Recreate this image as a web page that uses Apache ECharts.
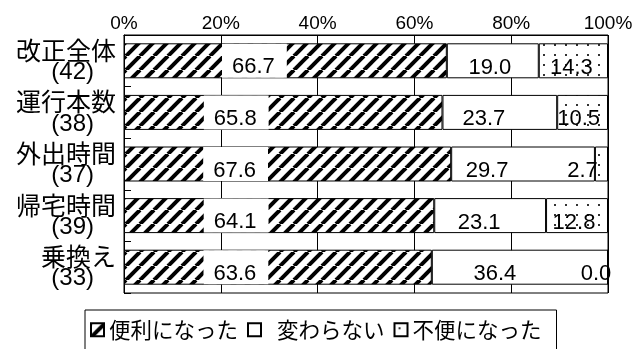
<!DOCTYPE html>
<html><head><meta charset="utf-8">
<script src="https://cdn.jsdelivr.net/npm/echarts@6/dist/echarts.min.js"></script>
<style>html,body{margin:0;padding:0;background:#fff}#c{width:644px;height:349px}</style>
</head><body><div id="c"></div>
<script>
const categories = ['改正全体', '運行本数', '外出時間', '帰宅時間', '乗換え'];
const counts = [42, 38, 37, 39, 33];
const better = [66.7, 65.8, 67.6, 64.1, 63.6];
const same = [19.0, 23.7, 29.7, 23.1, 36.4];
const worse = [14.3, 10.5, 2.7, 12.8, 0.0];
const seriesNames = ['便利になった', '変わらない', '不便になった'];

// label nudges (style only)
const nudge = [
  [-31, -47, -52, -43, -42],
  [-3, -16, -36, -11, -25],
  [-2, -4, -19, -3, -12]
];

function hatch() {
  const p = 14, c = document.createElement('canvas');
  c.width = p; c.height = p;
  const g = c.getContext('2d');
  g.fillStyle = '#fff'; g.fillRect(0, 0, p, p);
  g.strokeStyle = '#000'; g.lineWidth = 4;
  for (const k of [-1, 0, 1]) {
    g.beginPath(); g.moveTo(k * p, p); g.lineTo(k * p + p, 0); g.stroke();
  }
  return c;
}
function dots() {
  const c = document.createElement('canvas');
  c.width = 11; c.height = 10;
  const g = c.getContext('2d');
  g.fillStyle = '#fff'; g.fillRect(0, 0, 11, 10);
  g.fillStyle = '#333'; g.fillRect(4, 4, 2, 2);
  return c;
}

const fills = [
  { image: hatch(), repeat: 'repeat' },
  '#ffffff',
  { image: dots(), repeat: 'repeat' }
];
const values = [better, same, worse];
const FONT = 'Liberation Sans, Arial, sans-serif';

const series = values.map((arr, s) => ({
  name: seriesNames[s],
  type: 'bar',
  stack: 'total',
  barWidth: 35,
  itemStyle: { color: fills[s], borderColor: '#000', borderWidth: 1 },
  emphasis: { disabled: true },
  label: s === 0 ? {
    show: true, position: 'inside', backgroundColor: '#fff', padding: [0, 12, 0, 10],
    formatter: p => `{s| }\n{t|${Number(p.value).toFixed(1)}}`,
    rich: {
      s: { fontSize: 10, lineHeight: 13, color: '#000' },
      t: { fontSize: 22, lineHeight: 21, fontFamily: FONT, color: '#000' }
    }
  } : {
    show: true, position: 'inside', color: '#000', fontSize: 22, lineHeight: 21,
    fontFamily: FONT, formatter: p => Number(p.value).toFixed(1)
  },
  data: arr.map((v, i) => ({
    value: v,
    label: { offset: s === 0 ? [nudge[s][i], 0] : [nudge[s][i], 7] }
  }))
}));

const chart = echarts.init(document.getElementById('c'), null, { renderer: 'canvas' });
chart.setOption({
  animation: false,
  backgroundColor: '#fff',
  grid: { left: 124, right: 36, top: 35, bottom: 56, show: true, borderColor: '#000', borderWidth: 1 },
  xAxis: {
    type: 'value', position: 'top', min: 0, max: 100, interval: 20,
    axisLabel: { formatter: '{value}%', fontSize: 19, color: '#000', margin: 2, fontFamily: FONT },
    axisLine: { show: true, lineStyle: { color: '#000', width: 1 } },
    axisTick: { show: false },
    splitLine: { show: true, lineStyle: { color: '#000', width: 1 } }
  },
  yAxis: {
    type: 'category', data: categories, inverse: true,
    axisLine: { show: true, lineStyle: { color: '#000', width: 1 } },
    axisTick: { show: true, inside: true, length: 7, lineStyle: { color: '#000' } },
    axisLabel: {
      margin: 8, color: '#000', fontSize: 24,
      formatter: (v, i) => `{a|${v}}\n{b|(${counts[i]})}`,
      rich: {
        a: { fontSize: 25, lineHeight: 23, fontFamily: 'Noto Sans CJK JP', color: '#000', align: 'right' },
        b: { fontSize: 24, lineHeight: 21, fontFamily: FONT, color: '#000', align: 'right', padding: [0, 22, 0, 0] }
      }
    }
  },
  legend: {
    left: 85, top: 310, orient: 'horizontal', icon: 'rect',
    itemWidth: 13, itemHeight: 13, itemGap: 9,
    padding: [9, 15, 20, 5], borderColor: '#000', borderWidth: 1,
    data: seriesNames,
    formatter: n => n === seriesNames[1] ? `{m|${n}}` : n,
    textStyle: {
      fontSize: 21.5, color: '#000', fontFamily: 'Noto Sans CJK JP',
      rich: { m: { fontSize: 21.5, fontFamily: 'Noto Sans CJK JP', color: '#000', padding: [0, 17, 0, 11] } }
    }
  },
  series
});
</script>
</body></html>
